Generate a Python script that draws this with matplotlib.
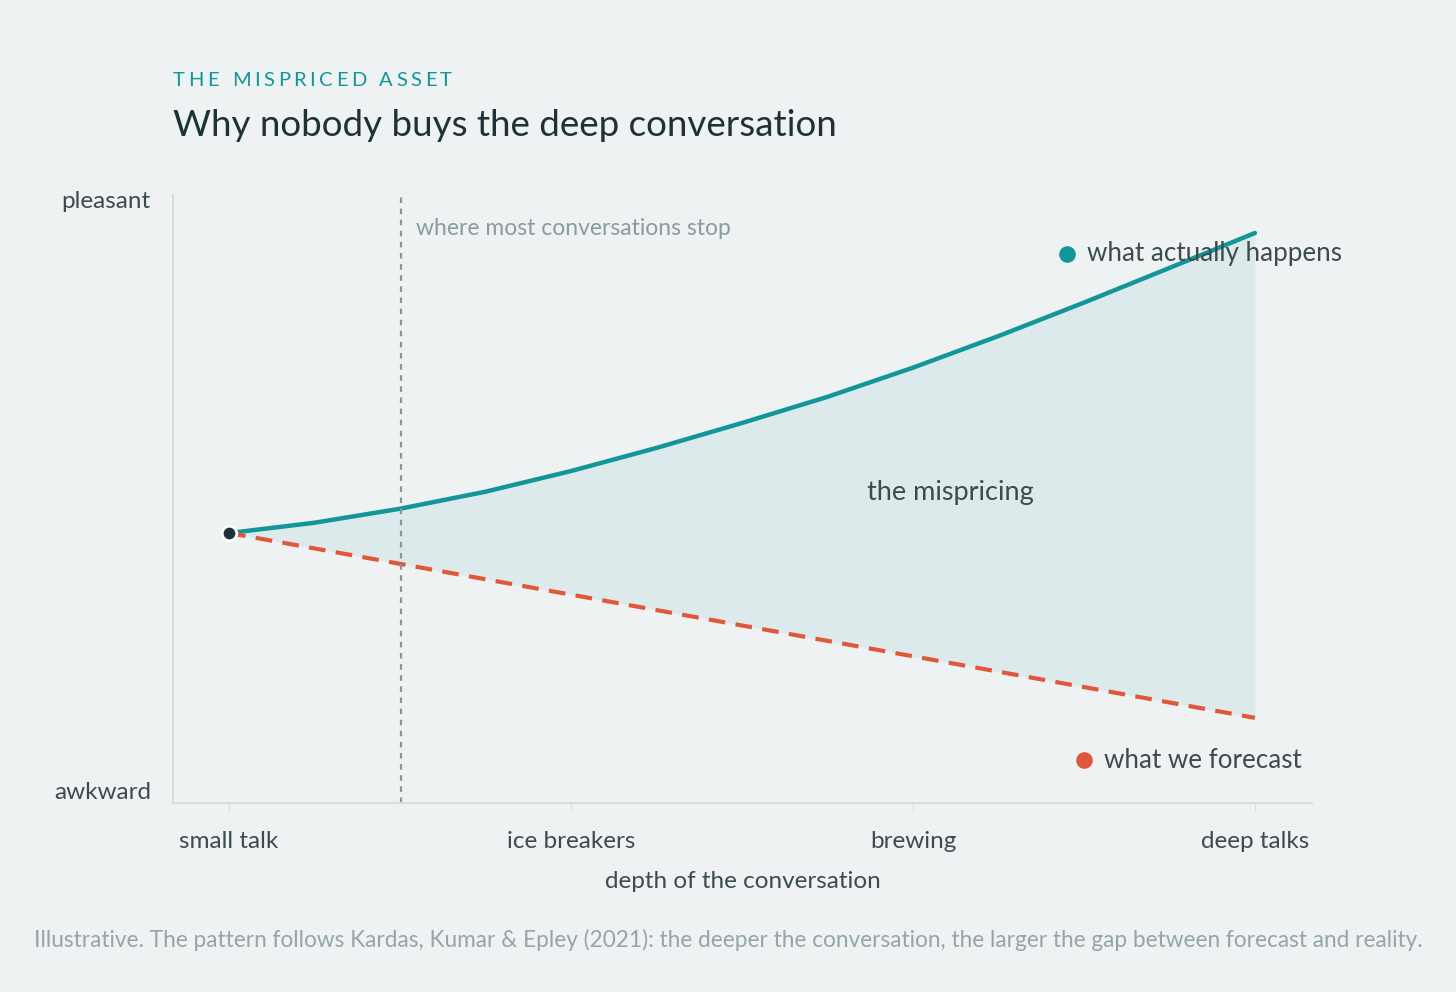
import numpy as np
import matplotlib.pyplot as plt

plt.rcParams['font.family'] = ['Lato', 'DejaVu Sans']

stages = ["small talk", "ice breakers", "brewing", "deep talks"]
depth = [0, 0.25, 0.5, 0.75, 1.0, 1.25, 1.5, 1.75, 2.0, 2.25, 2.5, 2.75, 3.0]
actual = [0.444, 0.461, 0.484, 0.512, 0.546, 0.584, 0.625, 0.668, 0.716, 0.768, 0.823, 0.880, 0.9375]
forecast_x = [0, 3]
forecast = [0.444, 0.140]
stop_depth = 0.503

bg = '#eef2f2'
teal = '#12969a'
red = '#e0573b'
dark = '#1d3236'
grey = '#8a9c9c'

fig = plt.figure(figsize=(14.56, 9.92), dpi=100, facecolor=bg)
ax = fig.add_axes([173/1456, 1-803/992, (1312-173)/1456, 608/992], facecolor=bg)

fx = np.array(depth)
fy = np.interp(fx, forecast_x, forecast)
ax.fill_between(fx, fy, actual, color=teal, alpha=0.08, lw=0)
ax.plot(depth, actual, color=teal, lw=3.2, solid_capstyle='round', solid_joinstyle='round')
ax.plot(forecast_x, forecast, color=red, lw=3, ls=(0, (4, 2.5)))
ax.scatter([0], [forecast[0]], s=110, color=dark, edgecolor='white', lw=2, zorder=5)
ax.axvline(stop_depth, color='#8c9494', lw=1.6, ls=(0, (2.5, 2.5)))
ax.text(stop_depth + 0.045, 0.945, "where most conversations stop", color=grey, fontsize=16.5, va='center')

ax.scatter([2.45], [0.903], s=120, color=teal, zorder=5)
ax.text(2.51, 0.903, "what actually happens", color='#3c4c4c', fontsize=18.7, va='center')
ax.scatter([2.5], [0.07], s=120, color=red, zorder=5)
ax.text(2.56, 0.07, "what we forecast", color='#3c4c4c', fontsize=18.7, va='center')
ax.text(2.11, 0.51, "the mispricing", color='#3c4c4c', fontsize=19.5, ha='center', va='center')

ax.set_xlim(-0.164, 3.167)
ax.set_ylim(0, 1)
ax.set_xticks(range(len(stages)))
ax.set_xticklabels(stages, fontsize=17.5, color='#3c4c4c')
ax.set_yticks([0.02, 0.993])
ax.set_yticklabels(["awkward", "pleasant"], fontsize=17.5, color='#3c4c4c')
ax.tick_params(axis='x', length=6, color='#d8dede', pad=14)
ax.tick_params(axis='y', length=0, pad=16)
for s in ['top', 'right']:
    ax.spines[s].set_visible(False)
for s in ['left', 'bottom']:
    ax.spines[s].set_color('#d8dede')
    ax.spines[s].set_linewidth(1.5)
ax.set_xlabel("depth of the conversation", fontsize=17.5, color='#3c4c4c', labelpad=14)

# spaced-out kicker, drawn letter by letter
kicker = "THE MISPRICED ASSET"
fig.canvas.draw()
r = fig.canvas.get_renderer()
xpos = 173
for ch in kicker:
    t = fig.text(xpos/1456, 1-81/992, ch, color=teal, fontsize=14.5, va='center')
    w = t.get_window_extent(r).width if ch != ' ' else 6
    xpos += w + 3.5
fig.text(173/1456, 1-126/992, "Why nobody buys the deep conversation", color=dark, fontsize=26.5, va='center')
fig.text(0.5, 1-940/992, "Illustrative. The pattern follows Kardas, Kumar & Epley (2021): the deeper the conversation, "
         "the larger the gap between forecast and reality.", color='#94a6a6', fontsize=16.3, ha='center', va='center')

fig.savefig("out.png", dpi=100, facecolor=bg)
